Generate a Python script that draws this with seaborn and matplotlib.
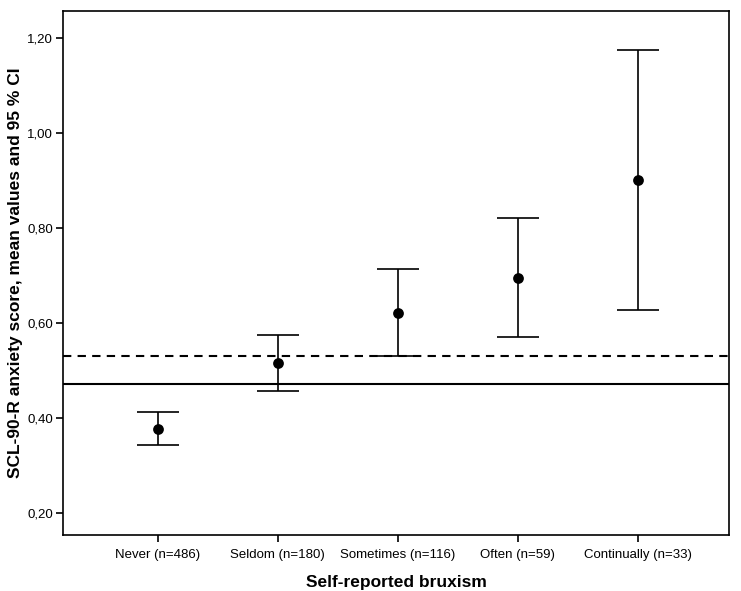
import numpy as np
import pandas as pd
import matplotlib
matplotlib.use("Agg")
import matplotlib.pyplot as plt
import seaborn as sns
from matplotlib.ticker import FuncFormatter

# Values
categories = ["Never (n=486)", "Seldom (n=180)", "Sometimes (n=116)",
              "Often (n=59)", "Continually (n=33)"]
means = [0.378, 0.515, 0.621, 0.696, 0.901]
ci_low = [0.343, 0.456, 0.531, 0.571, 0.628]
ci_high = [0.412, 0.575, 0.713, 0.822, 1.175]
ref_solid = 0.472   # reference line (solid)
ref_dashed = 0.531  # reference line (dashed)

df = pd.DataFrame({"group": categories, "mean": means,
                   "lo": ci_low, "hi": ci_high})

sns.set_style("white")
plt.rcParams["font.family"] = ["Liberation Sans", "DejaVu Sans"]

fig = plt.figure(figsize=(7.41, 5.91), dpi=100)
ax = fig.add_axes([0.085, 0.095, 0.899, 0.886])

# Error bars (95 % CI)
x = np.arange(len(categories))
ax.errorbar(x, df["mean"],
            yerr=[df["mean"] - df["lo"], df["hi"] - df["mean"]],
            fmt="none", ecolor="black", elinewidth=1.2,
            capsize=15, capthick=1.2, zorder=2)

# Means
sns.scatterplot(data=df, x="group", y="mean", color="black", s=60,
                edgecolor="black", linewidth=0, zorder=3, ax=ax)

# Reference lines
ax.axhline(ref_solid, color="black", lw=1.5, zorder=1)
ax.axhline(ref_dashed, color="black", lw=1.5, ls=(0, (4, 3)), zorder=1)

ax.set_xlim(-0.79, 4.76)
ax.set_ylim(0.154, 1.257)
ax.set_yticks([0.2, 0.4, 0.6, 0.8, 1.0, 1.2])
ax.yaxis.set_major_formatter(FuncFormatter(lambda v, p: f"{v:.2f}".replace(".", ",")))

for s in ax.spines.values():
    s.set_color("black")
    s.set_linewidth(1.2)

ax.tick_params(axis="both", direction="out", length=5, width=1.2,
               color="black", labelsize=9.5, labelcolor="black")
ax.tick_params(axis="x", pad=5)
ax.tick_params(axis="y", pad=2)
ax.tick_params(bottom=True, left=True)

ax.set_xlabel("Self-reported bruxism", fontsize=12.5, fontweight="bold",
              color="black", labelpad=10)
ax.set_ylabel("SCL-90-R anxiety score, mean values and 95 % CI",
              fontsize=12.5, fontweight="bold", color="black", labelpad=3)

fig.savefig("out.png", dpi=100)
